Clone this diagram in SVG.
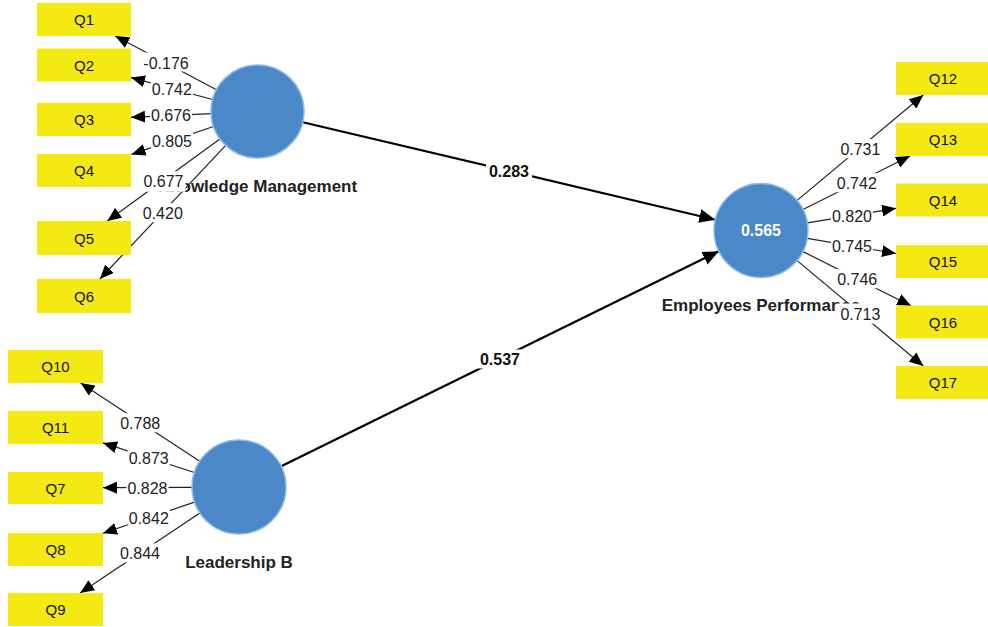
<svg xmlns="http://www.w3.org/2000/svg" width="988" height="627" viewBox="0 0 988 627">
  <defs>
    <marker id="arrow" markerUnits="userSpaceOnUse" markerWidth="15" markerHeight="12" refX="14" refY="6" orient="auto">
      <path d="M0,0 L14,6 L0,12 z" fill="#000"/>
    </marker>
    <marker id="arrowBig" markerUnits="userSpaceOnUse" markerWidth="17" markerHeight="14" refX="16" refY="7" orient="auto">
      <path d="M0,0 L16,7 L0,14 z" fill="#000"/>
    </marker>
    <style>
      .ind rect { fill: #f5e914; }
      .ind text { font-family: "Liberation Sans", Arial, sans-serif; font-size: 15px; fill: #111; text-anchor: middle; }
      .lv circle { fill: #4a88c8; stroke: #8fbbe6; stroke-width: 1.5; }
      .lv .name { font-family: "Liberation Sans", Arial, sans-serif; font-size: 17px; font-weight: bold; fill: #222; text-anchor: middle; }
      .lv .r2 { font-family: "Liberation Sans", Arial, sans-serif; font-size: 16px; font-weight: bold; fill: #fff; text-anchor: middle; }
      .load { stroke: #222; stroke-width: 1.2; fill: none; marker-end: url(#arrow); }
      .path { stroke: #000; stroke-width: 2.2; fill: none; marker-end: url(#arrowBig); }
      .lbl rect { fill: #fff; }
      .lbl text { font-family: "Liberation Sans", Arial, sans-serif; font-size: 16px; fill: #222; text-anchor: middle; }
      .lbl text.b { font-weight: bold; fill: #111; }
    </style>
  </defs>

  <rect width="988" height="627" fill="#fff"/>

  <!-- connectors -->
  <g id="connectors">
    <!-- Knowledge Management loadings -->
    <line class="load" x1="216.4" y1="89.7" x2="115.3" y2="36"/>
    <line class="load" x1="212.6" y1="99.5" x2="131" y2="77.6"/>
    <line class="load" x1="211" y1="113.6" x2="131" y2="117.3"/>
    <line class="load" x1="213.5" y1="126.5" x2="131.5" y2="154.4"/>
    <line class="load" x1="219.9" y1="138.9" x2="107.3" y2="221"/>
    <line class="load" x1="225.7" y1="145.4" x2="99.9" y2="279"/>
    <!-- Leadership B loadings -->
    <line class="load" x1="199.7" y1="461.2" x2="80.6" y2="383"/>
    <line class="load" x1="194.3" y1="472.5" x2="103" y2="442.9"/>
    <line class="load" x1="192" y1="487.3" x2="103" y2="487.7"/>
    <line class="load" x1="194.5" y1="502.1" x2="103" y2="533.3"/>
    <line class="load" x1="199.9" y1="513.1" x2="80.1" y2="593"/>
    <!-- Employees Performance loadings -->
    <line class="load" x1="797.1" y1="200.4" x2="923.3" y2="95"/>
    <line class="load" x1="803" y1="209.5" x2="910" y2="156"/>
    <line class="load" x1="807.4" y1="222.9" x2="896" y2="208.3"/>
    <line class="load" x1="807.3" y1="238.4" x2="896" y2="253.5"/>
    <line class="load" x1="803" y1="251.6" x2="911.2" y2="306"/>
    <line class="load" x1="797.1" y1="260.6" x2="923.3" y2="366"/>
    <!-- structural paths -->
    <line class="path" x1="302.8" y1="122.2" x2="715.3" y2="219.7"/>
    <line class="path" x1="281.2" y1="466.3" x2="718.8" y2="251.2"/>
  </g>

  <!-- latent variables -->
  <g id="lv-knowledge-management" class="lv">
    <circle cx="257.5" cy="111.5" r="46.5"/>
    <text class="name" x="257.5" y="191.5">Knowledge Management</text>
  </g>
  <g id="lv-leadership-b" class="lv">
    <circle cx="239" cy="487" r="47"/>
    <text class="name" x="239" y="567.5">Leadership B</text>
  </g>
  <g id="lv-employees-performance" class="lv">
    <circle cx="761" cy="230.5" r="47"/>
    <text class="r2" x="761" y="236.3">0.565</text>
    <text class="name" x="761" y="310.5">Employees Performance</text>
  </g>

  <!-- indicators -->
  <g id="q1" class="ind"><rect x="37" y="3" width="94" height="33"/><text x="84" y="25">Q1</text></g>
  <g id="q2" class="ind"><rect x="37" y="48.5" width="94" height="33"/><text x="84" y="70.5">Q2</text></g>
  <g id="q3" class="ind"><rect x="37" y="103" width="94" height="33"/><text x="84" y="125">Q3</text></g>
  <g id="q4" class="ind"><rect x="37" y="154" width="94" height="33"/><text x="84" y="176">Q4</text></g>
  <g id="q5" class="ind"><rect x="37" y="221" width="94" height="34"/><text x="84" y="243.5">Q5</text></g>
  <g id="q6" class="ind"><rect x="37" y="279" width="94" height="34"/><text x="84" y="301.5">Q6</text></g>

  <g id="q10" class="ind"><rect x="8" y="350" width="95" height="33"/><text x="55.5" y="372">Q10</text></g>
  <g id="q11" class="ind"><rect x="8" y="411" width="95" height="33"/><text x="55.5" y="433">Q11</text></g>
  <g id="q7" class="ind"><rect x="8" y="472" width="95" height="32"/><text x="55.5" y="493.5">Q7</text></g>
  <g id="q8" class="ind"><rect x="8" y="533" width="95" height="33"/><text x="55.5" y="555">Q8</text></g>
  <g id="q9" class="ind"><rect x="8" y="593" width="95" height="33"/><text x="55.5" y="615">Q9</text></g>

  <g id="q12" class="ind"><rect x="896" y="62" width="94" height="33"/><text x="943" y="84">Q12</text></g>
  <g id="q13" class="ind"><rect x="896" y="123" width="94" height="33"/><text x="943" y="145">Q13</text></g>
  <g id="q14" class="ind"><rect x="896" y="183.5" width="94" height="33"/><text x="943" y="205.5">Q14</text></g>
  <g id="q15" class="ind"><rect x="896" y="245" width="94" height="33"/><text x="943" y="267">Q15</text></g>
  <g id="q16" class="ind"><rect x="896" y="305.5" width="94" height="33"/><text x="943" y="327.5">Q16</text></g>
  <g id="q17" class="ind"><rect x="896" y="366" width="94" height="33"/><text x="943" y="388">Q17</text></g>

  <!-- coefficient labels (white backing interrupts the lines) -->
  <g id="labels" class="lbl">
    <rect x="143" y="52.5" width="46" height="19"/><text x="166" y="68.5">-0.176</text>
    <rect x="150.8" y="79.7" width="42" height="19"/><text x="171.8" y="95.2">0.742</text>
    <rect x="150" y="105.7" width="42" height="19"/><text x="171" y="121.2">0.676</text>
    <rect x="151" y="131.2" width="42" height="19"/><text x="172" y="146.7">0.805</text>
    <rect x="142.5" y="171.2" width="43" height="20.5"/><text x="163.5" y="186.7">0.677</text>
    <rect x="141.8" y="203.2" width="42" height="19"/><text x="162.8" y="218.7">0.420</text>

    <rect x="119.2" y="413.2" width="42" height="19"/><text x="140.2" y="428.7">0.788</text>
    <rect x="127.7" y="448.2" width="42" height="19"/><text x="148.7" y="463.7">0.873</text>
    <rect x="126.5" y="478.2" width="42" height="19"/><text x="147.5" y="493.7">0.828</text>
    <rect x="127.8" y="508.2" width="42" height="19"/><text x="148.8" y="523.7">0.842</text>
    <rect x="119" y="543.4" width="42" height="19"/><text x="140" y="558.9">0.844</text>

    <rect x="839.4" y="139.2" width="42" height="19"/><text x="860.4" y="154.7">0.731</text>
    <rect x="835.8" y="173.2" width="42" height="19"/><text x="856.8" y="188.7">0.742</text>
    <rect x="831" y="206.2" width="42" height="19"/><text x="852" y="221.7">0.820</text>
    <rect x="831" y="236.5" width="42" height="19"/><text x="852" y="252">0.745</text>
    <rect x="836.2" y="269.2" width="42" height="19"/><text x="857.2" y="284.7">0.746</text>
    <rect x="837" y="303.5" width="47" height="20"/><text x="860.4" y="319.5">0.713</text>

    <rect x="486" y="161.5" width="46" height="19"/><text class="b" x="509" y="177.2">0.283</text>
    <rect x="477" y="349.5" width="46" height="19"/><text class="b" x="500" y="365.2">0.537</text>
  </g>
</svg>
